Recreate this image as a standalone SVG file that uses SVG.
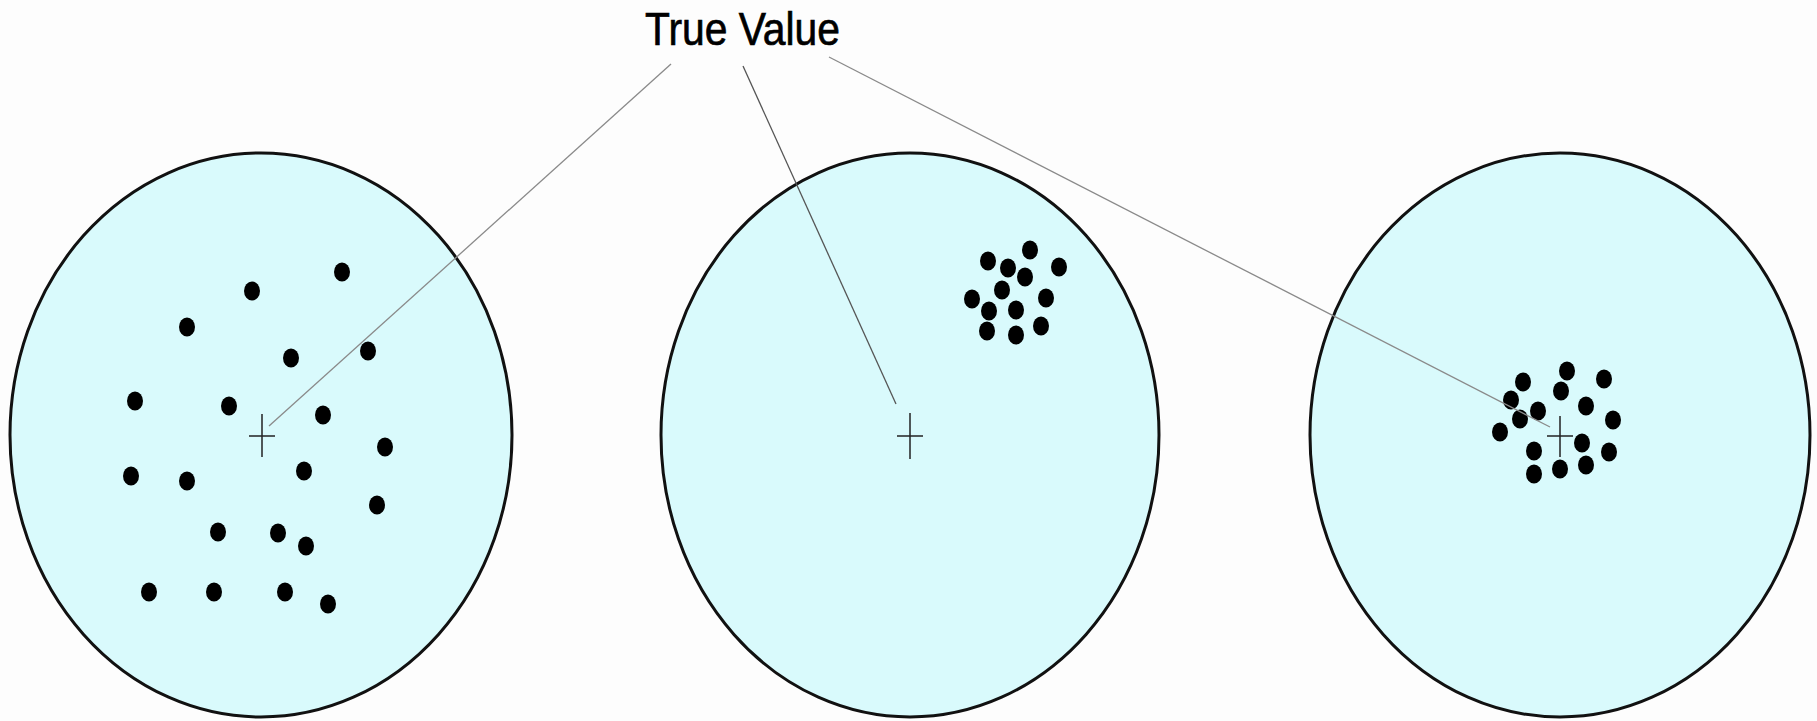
<svg xmlns="http://www.w3.org/2000/svg" width="1817" height="721" viewBox="0 0 1817 721">
<style>
.target{fill:#d9fafc;stroke:#111;stroke-width:3}
.dot{fill:#000}
.cross{stroke:#222;stroke-width:1.5;fill:none}
.lead{stroke:#8a8a8a;stroke-width:1.3;fill:none}
.label{font-family:"Liberation Sans",Arial,sans-serif;font-size:47px;fill:#000;stroke:#000;stroke-width:0.7}
</style>
<defs>
<ellipse id="d" rx="8" ry="9.5" class="dot"/>
</defs>
<rect width="1817" height="721" fill="#fdfdfd"/>
<g id="target-left">
<ellipse class="target" cx="261" cy="435" rx="251" ry="282"/>
<path class="cross" d="M249 436H275M262 414V457"/>
<use href="#d" x="342" y="272"/><use href="#d" x="252" y="291"/><use href="#d" x="187" y="327"/>
<use href="#d" x="291" y="358"/><use href="#d" x="368" y="351"/><use href="#d" x="135" y="401"/>
<use href="#d" x="229" y="406"/><use href="#d" x="323" y="415"/><use href="#d" x="385" y="447"/>
<use href="#d" x="131" y="476"/><use href="#d" x="187" y="481"/><use href="#d" x="304" y="471"/>
<use href="#d" x="377" y="505"/><use href="#d" x="218" y="532"/><use href="#d" x="278" y="533"/>
<use href="#d" x="306" y="546"/><use href="#d" x="149" y="592"/><use href="#d" x="214" y="592"/>
<use href="#d" x="285" y="592"/><use href="#d" x="328" y="604"/>
</g>
<g id="target-middle">
<ellipse class="target" cx="910" cy="435" rx="249" ry="282"/>
<path class="cross" d="M897 436H923M910 413V459"/>
<use href="#d" x="1030" y="250"/><use href="#d" x="988" y="261"/><use href="#d" x="1008" y="268"/>
<use href="#d" x="1059" y="267"/><use href="#d" x="1025" y="277"/><use href="#d" x="1002" y="290"/>
<use href="#d" x="972" y="299"/><use href="#d" x="1046" y="298"/><use href="#d" x="989" y="311"/>
<use href="#d" x="1016" y="310"/><use href="#d" x="987" y="331"/><use href="#d" x="1016" y="335"/>
<use href="#d" x="1041" y="326"/>
</g>
<g id="target-right">
<ellipse class="target" cx="1560" cy="435" rx="250" ry="282"/>
<path class="cross" d="M1547 436H1573M1560 416V457"/>
<use href="#d" x="1567" y="371"/><use href="#d" x="1523" y="382"/><use href="#d" x="1604" y="379"/>
<use href="#d" x="1561" y="391"/><use href="#d" x="1511" y="400"/><use href="#d" x="1586" y="406"/>
<use href="#d" x="1538" y="411"/><use href="#d" x="1520" y="419"/><use href="#d" x="1613" y="420"/>
<use href="#d" x="1500" y="432"/><use href="#d" x="1582" y="443"/><use href="#d" x="1609" y="452"/>
<use href="#d" x="1534" y="451"/><use href="#d" x="1534" y="474"/><use href="#d" x="1560" y="469"/>
<use href="#d" x="1586" y="465"/>
</g>
<g id="label">
<text class="label" x="645" y="45" textLength="195" lengthAdjust="spacingAndGlyphs">True Value</text>
</g>
<g id="connectors">
<line class="lead" x1="671" y1="64" x2="269" y2="426"/>
<line class="lead" x1="743" y1="66" x2="896" y2="404" style="stroke:#555"/>
<line class="lead" x1="829" y1="57" x2="1550" y2="427"/>
</g>
</svg>
